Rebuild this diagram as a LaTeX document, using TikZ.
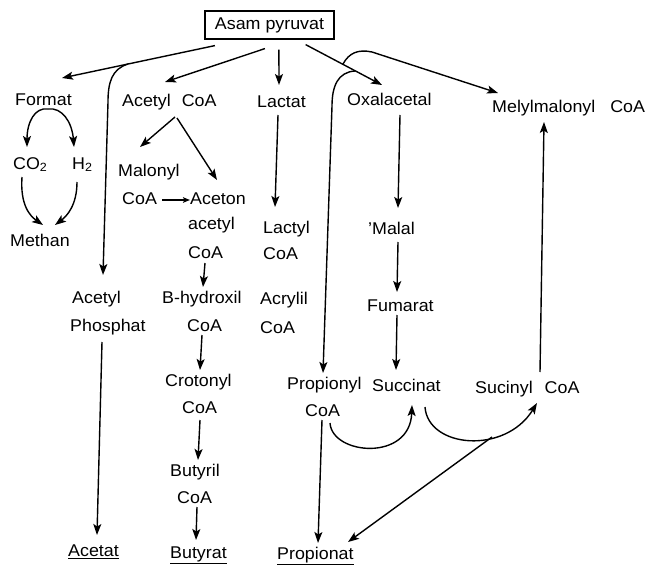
\documentclass[tikz,border=0pt]{standalone}
\usepackage{fontspec}
\setmainfont{Liberation Sans}[FakeStretch=1.05]
\usetikzlibrary{arrows.meta,calc}
\begin{document}
\begin{tikzpicture}[x=1pt,y=-1pt,
  lbl/.style={inner sep=0pt,anchor=west,text height=12pt,text depth=3.5pt,font=\fontsize{17}{20}\selectfont},
  pbox/.style={draw,line width=1.2pt,inner sep=2pt,minimum width=129pt,minimum height=28pt,font=\fontsize{17}{20}\selectfont},
  arr/.style={line width=1.4pt,-{Stealth[length=11pt,width=8pt,inset=2.5pt]}},
  sarr/.style={line width=1.2pt,-{Stealth[length=7pt,width=5.5pt,inset=1.5pt]}}]
\useasboundingbox (0,0) rectangle (658,567);
\node[pbox] (pyr) at (269.5,25) {Asam pyruvat};
\node[lbl] (format) at (15,101) {Format};
\node[lbl] (acoa) at (122,102) {Acetyl\hspace{11pt}CoA};
\node[lbl] (lactat) at (257,103) {Lactat};
\node[lbl] (oxal) at (347,101) {Oxalacetal};
\node[lbl] (melyl) at (492,108) {Melylmalonyl\hspace{15pt}CoA};
\node[lbl] (co2) at (13,165) {CO\textsubscript{2}};
\node[lbl] (h2) at (72,165) {H\textsubscript{2}};
\node[lbl] (methan) at (10,242) {Methan};
\node[lbl] (malonyl) at (118,172) {Malonyl};
\node[lbl] (malcoa) at (122,200) {CoA};
\node[lbl] (aceton) at (190,200) {Aceton};
\node[lbl] (acetyl2) at (188,225) {acetyl};
\node[lbl] (aacoa) at (188,254) {CoA};
\node[lbl] (lactyl) at (263,229) {Lactyl};
\node[lbl] (lactylcoa) at (263,255) {CoA};
\node[lbl] (malal) at (368,230) {'Malal};
\node[lbl] (fumarat) at (367,307) {Fumarat};
\node[lbl] (acph1) at (72,299) {Acetyl};
\node[lbl] (acph2) at (70,327) {Phosphat};
\node[lbl] (bhyd) at (162,299) {B-hydroxil};
\node[lbl] (bhydcoa) at (187,327) {CoA};
\node[lbl] (acryl) at (260,300) {Acrylil};
\node[lbl] (acrylcoa) at (260,329) {CoA};
\node[lbl] (croton) at (165,382) {Crotonyl};
\node[lbl] (crotcoa) at (182,409) {CoA};
\node[lbl] (propyl) at (287,385) {Propionyl};
\node[lbl] (propcoa) at (305,412) {CoA};
\node[lbl] (succinat) at (372,387) {Succinat};
\node[lbl] (sucinyl) at (475,389) {Sucinyl\hspace{12pt}CoA};
\node[lbl] (butyril) at (170,472) {Butyril};
\node[lbl] (butcoa) at (177,499) {CoA};
\node[lbl] (acetat) at (68,552) {\underline{Acetat}};
\node[lbl] (butyrat) at (170,554) {\underline{Butyrat}};
\node[lbl] (propionat) at (277,555) {\underline{Propionat}};
% junction points
\coordinate (b1) at (128,64);
\coordinate (b2) at (343,64);
\coordinate (b3) at (355,71);
\coordinate (b4) at (492,437);
\coordinate (ftop) at ($(format.west)+(33,8)$);
% from pyruvat
\draw[arr] ($(pyr.south west)+(10.5,6)$) -- ($(format.west)+(47,-23)$);
\draw[arr] (b1) .. controls (112,69) and (108,82) .. (108,102) -- ($(acph1.west)+(31,-24)$);
\draw[arr] ($(pyr.south west)+(60.5,9)$) -- ($(acoa.west)+(43,-20)$);
\draw[arr] ($(pyr.south west)+(74.5,10)$) -- ($(lactat.west)+(22,-18)$);
\draw[arr] ($(pyr.south east)+(-29,5)$) -- ($(oxal.west)+(35,-16)$);
\draw[arr] (b2) .. controls (349,53) and (358,49) .. (372,52) -- ($(melyl.west)+(6,-15)$);
\draw[arr] (b3) .. controls (338,72) and (332,86) .. (332,106) -- ($(propyl.west)+(36,-12)$);
% formate
\draw[arr] (ftop) .. controls (35,107) and (27,122) .. ($(co2.west)+(14,-18)$);
\draw[arr] (ftop) .. controls (62,107) and (72,122) .. ($(h2.west)+(2,-18)$);
\draw[arr] ($(co2.west)+(9,12)$) .. controls (20,205) and (30,216) .. ($(methan.west)+(33,-17)$);
\draw[arr] ($(h2.west)+(5,17)$) .. controls (77,205) and (67,216) .. ($(methan.west)+(45,-17)$);
% butyrate path
\draw[arr] ($(acoa.west)+(53,15)$) -- ($(malonyl.west)+(22,-25)$);
\draw[arr] ($(acoa.west)+(55,16)$) -- ($(aceton.west)+(27,-20)$);
\draw[sarr] ($(malcoa.east)+(5,0)$) -- (aceton.west);
\draw[arr] ($(aacoa.west)+(17,9)$) -- ($(bhyd.west)+(41,-12)$);
\draw[arr] ($(bhydcoa.west)+(15,8)$) -- ($(croton.west)+(35,-12)$);
\draw[arr] ($(crotcoa.west)+(18,11)$) -- ($(butyril.west)+(28,-12)$);
\draw[arr] ($(butcoa.west)+(20,8)$) -- ($(butyrat.west)+(26,-14)$);
% acetate
\draw[arr] ($(acph2.west)+(32,15)$) -- ($(acetat.west)+(29,-17)$);
% lactate
\draw[arr] ($(lactat.west)+(21,12)$) -- ($(lactyl.west)+(12,-22)$);
% succinate path
\draw[arr] ($(oxal.west)+(53,14)$) -- ($(malal.west)+(30,-22)$);
\draw[arr] ($(malal.west)+(30,12)$) -- ($(fumarat.west)+(30,-15)$);
\draw[arr] ($(fumarat.west)+(30,8)$) -- ($(succinat.west)+(24,-17)$);
\draw[arr] ($(sucinyl.west)+(65,-17)$) -- ($(melyl.west)+(52,14)$);
\draw[arr] ($(propcoa.west)+(17,8)$) -- ($(propionat.west)+(41,-12)$);
\draw[arr] ($(propcoa.west)+(25,11)$) .. controls (332,455) and (410,462) .. ($(succinat.west)+(40,18)$);
\draw[arr] ($(succinat.west)+(53,20)$) .. controls (428,448) and (505,455) .. ($(sucinyl.west)+(62,14)$);
\draw[arr] (b4) -- ($(propionat.west)+(71,-13)$);
\end{tikzpicture}
\end{document}
